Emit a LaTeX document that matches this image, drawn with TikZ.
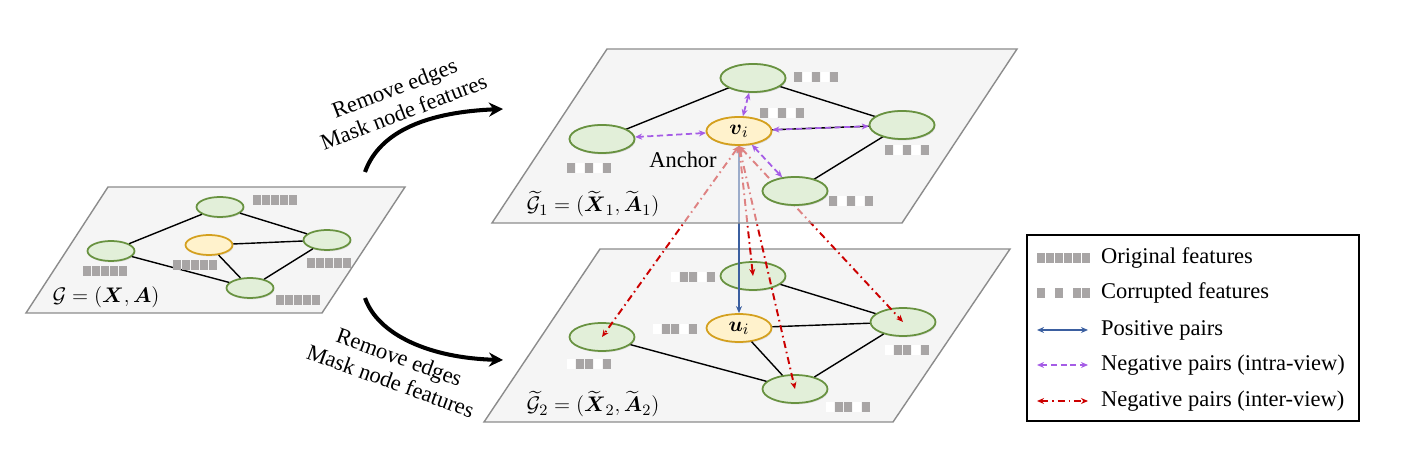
\documentclass[tikz,border=0pt]{standalone}
\usepackage{fontspec}
\setmainfont{Liberation Serif}
\usepackage{amsmath,amssymb}
\usepackage{tikz}
\usetikzlibrary{shapes,arrows.meta,shadows}

\definecolor{planegray}{RGB}{245,245,245}
\definecolor{planefade}{RGB}{237,237,237}
\definecolor{planeline}{RGB}{140,140,140}
\definecolor{nodegreen}{RGB}{104,146,64}
\definecolor{nodegreenfill}{RGB}{226,239,217}
\definecolor{anchorgold}{RGB}{212,160,30}
\definecolor{anchorfill}{RGB}{255,242,204}
\definecolor{featgray}{RGB}{168,165,165}
\definecolor{posblue}{RGB}{59,95,160}
\definecolor{intrapurple}{RGB}{165,92,230}
\definecolor{interred}{RGB}{204,0,0}

% one row of feature slots: x left, y top, macro holding the slot colours
\newcommand{\featrow}[3]{%
  \foreach \col [count=\slot from 0] in #3
    \fill[\col] ({#1+9*\slot},#2) rectangle ++(8,-10);
}
\def\orig{featgray,featgray,featgray,featgray,featgray}
\def\corra{featgray,white,featgray,white,featgray}
\def\corrb{white,featgray,featgray,white,featgray}
\def\origsix{featgray,featgray,featgray,featgray,featgray,featgray}
\def\corrsix{featgray,white,featgray,white,featgray,featgray}

\begin{document}
\begin{tikzpicture}[x=0.02cm,y=0.02cm,every node/.style={font=\fontsize{12.8}{14.5}\selectfont}]
        \tikzstyle{plane}=[fill=planegray, draw=planeline, line width=0.8pt];
        \tikzstyle{gnode}=[ellipse, draw=nodegreen, fill=nodegreenfill, line width=1pt, minimum width=1.3cm, minimum height=0.56cm, inner sep=0pt, drop shadow={opacity=0.18,shadow xshift=0.5pt,shadow yshift=-0.8pt}];
        \tikzstyle{anode}=[gnode, draw=anchorgold, fill=anchorfill];
        \tikzstyle{small}=[minimum width=0.94cm, minimum height=0.4cm];
        \tikzstyle{edge}=[black, line width=0.8pt];
        \tikzstyle{bigarrow}=[black, line width=2.3pt, -{Stealth[length=8pt,width=8pt]}];
        \tikzstyle{posarrow}=[posblue, line width=0.9pt, {Stealth[length=4pt,width=3.4pt]}-{Stealth[length=4pt,width=3.4pt]}];
        \tikzstyle{intraarrow}=[intrapurple, line width=1pt, dash pattern=on 3.5pt off 2pt, {Stealth[length=4pt,width=3.4pt]}-{Stealth[length=4pt,width=3.4pt]}];
        \tikzstyle{interarrow}=[interred, line width=1.1pt, dash pattern=on 4pt off 2.2pt on 0.9pt off 2.2pt, {Stealth[length=4pt,width=3.4pt]}-{Stealth[length=4pt,width=3.4pt]}];

        \useasboundingbox (0,0) rectangle (1409,449);

        % Original graph G
        \draw[plane] (108,262) -- (405,262) -- (322,136) -- (26,136) -- cycle;
        \node[gnode,small] (gt) at (220,242) {};
        \node[gnode,small] (gl) at (111,198) {};
        \node[anode,small] (gm) at (209,204) {};
        \node[gnode,small] (gr) at (327,209) {};
        \node[gnode,small] (gb) at (250,161) {};
        \draw[edge] (gt) -- (gl);
        \draw[edge] (gt) -- (gr);
        \draw[edge] (gl) -- (gb);
        \draw[edge] (gm) -- (gr);
        \draw[edge] (gm) -- (gb);
        \draw[edge] (gr) -- (gb);
        \featrow{253}{254}{\orig}
        \featrow{83}{183}{\orig}
        \featrow{173}{189}{\orig}
        \featrow{307}{191}{\orig}
        \featrow{276}{154}{\orig}
        \node (glabel) at (106,152) {$\mathcal{G}=(\boldsymbol{X},\boldsymbol{A})$};

        % Augmentation arrows
        \coordinate (up0) at (365,277);
        \coordinate (up1) at (503,340);
        \coordinate (dn0) at (365,151);
        \coordinate (dn1) at (503,89);
        \draw[bigarrow] (up0) .. controls (380,319) and (430,337) .. (up1);
        \draw[bigarrow] (dn0) .. controls (378,114) and (430,91) .. (dn1);
        \node[align=center, rotate=21] (augup) at (399,349) {Remove edges\\Mask node features};
        \node[align=center, rotate=-20] (augdn) at (395,80) {Remove edges\\Mask node features};

        % View 2
        \draw[plane] (600,200) -- (1010,200) -- (893,27) -- (484,27) -- cycle;
        \node[gnode] (t2) at (753,173) {};
        \node[gnode] (l2) at (602,112) {};
        \node[anode] (u) at (739,121) {$\boldsymbol{u}_i$};
        \node[gnode] (r2) at (903,127) {};
        \node[gnode] (b2) at (795,60) {};
        \draw[edge] (t2) -- (r2);
        \draw[edge] (l2) -- (b2);
        \draw[edge] (u) -- (r2);
        \draw[edge] (u) -- (b2);
        \draw[edge] (r2) -- (b2);
        \featrow{671}{177}{\corrb}
        \featrow{653}{125}{\corrb}
        \featrow{567}{90}{\corrb}
        \featrow{885}{104}{\corrb}
        \featrow{826}{47}{\corrb}
        \node (g2label) at (593,45) {$\widetilde{\mathcal{G}}_2=(\widetilde{\boldsymbol{X}}_2,\widetilde{\boldsymbol{A}}_2)$};

        % View 1 nodes first, so the pairs can start there
        \node[anode] (v) at (739,318) {$\boldsymbol{v}_i$};
        \node[gnode] (t1) at (753,371) {};
        \node[gnode] (l1) at (602,310) {};
        \node[gnode] (r1) at (902,324) {};
        \node[gnode] (b1) at (795,258) {};

        % Inter-view pairs
        \draw[posarrow] (v.south) -- (u.north);
        \draw[interarrow] (v.south) -- (l2.center);
        \draw[interarrow] (v.south) -- (t2.center);
        \draw[interarrow] (v.south) -- (b2.center);
        \draw[interarrow] (v.south) -- (r2.center);

        % View 1 plane over the pairs
        \fill[planefade, fill opacity=0.55] (607,400) -- (1017,400) -- (902,226) -- (492,226) -- cycle;
        \draw[planeline, line width=0.8pt] (607,400) -- (1017,400) -- (902,226) -- (492,226) -- cycle;
        \draw[edge] (t1.center) -- (l1.center);
        \draw[edge] (t1.center) -- (r1.center);
        \draw[edge] (v.center) -- (r1.center);
        \draw[edge] (r1.center) -- (b1.center);
        \node[anode] at (v) {$\boldsymbol{v}_i$};
        \node[gnode] at (t1) {};
        \node[gnode] at (l1) {};
        \node[gnode] at (r1) {};
        \node[gnode] at (b1) {};
        \draw[intraarrow] (v) -- (l1);
        \draw[intraarrow] (v) -- (t1);
        \draw[intraarrow] (v) -- (r1);
        \draw[intraarrow] (v) -- (b1);
        \featrow{794}{377}{\corra}
        \featrow{760}{341}{\corra}
        \featrow{567}{286}{\corra}
        \featrow{885}{304}{\corra}
        \featrow{829}{253}{\corra}
        \node (anchor) at (683,289) {Anchor};
        \node (g1label) at (593,245) {$\widetilde{\mathcal{G}}_1=(\widetilde{\boldsymbol{X}}_1,\widetilde{\boldsymbol{A}}_1)$};

        % Legend
        \draw[black, line width=0.8pt] (1027,28) rectangle (1359,214);
        \featrow{1037}{196}{\origsix}
        \featrow{1037}{161}{\corrsix}
        \coordinate (pos0) at (1037,119);
        \coordinate (pos1) at (1088,119);
        \coordinate (intra0) at (1037,84);
        \coordinate (intra1) at (1088,84);
        \coordinate (inter0) at (1037,48);
        \coordinate (inter1) at (1088,48);
        \draw[posarrow] (pos0) -- (pos1);
        \draw[intraarrow] (intra0) -- (intra1);
        \draw[interarrow] (inter0) -- (inter1);
        \node[anchor=west] (korig) at (1095,191) {Original features};
        \node[anchor=west] (kcorr) at (1095,156) {Corrupted features};
        \node[anchor=west] (kpos) at (1095,119) {Positive pairs};
        \node[anchor=west] (kintra) at (1095,84) {Negative pairs (intra-view)};
        \node[anchor=west] (kinter) at (1095,48) {Negative pairs (inter-view)};
    \end{tikzpicture}
\end{document}
